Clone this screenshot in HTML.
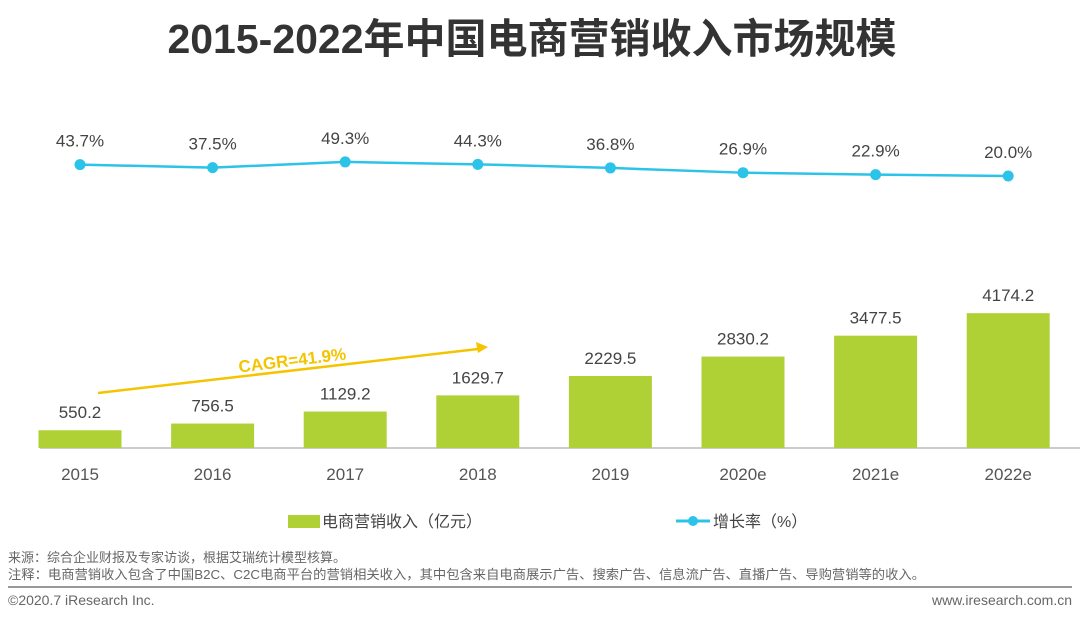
<!DOCTYPE html>
<html><head><meta charset="utf-8"><style>
body{margin:0;width:1080px;height:621px;background:#fff;overflow:hidden;font-family:"Liberation Sans","Noto Sans CJK SC",sans-serif}
svg text{font-family:"Liberation Sans","Noto Sans CJK SC",sans-serif}
</style></head><body>
<svg width="1080" height="621">
<text x="532" y="53" text-anchor="middle" font-size="41" font-weight="bold" fill="#333">2015-2022年中国电商营销收入市场规模</text>
<line x1="40" y1="448" x2="1080" y2="448" stroke="#bbb" stroke-width="1.5"/>
<g id="bars"></g><g id="line"></g>
<line x1="98" y1="393" x2="478" y2="349" stroke="#f5c400" stroke-width="2.5"/>
<polygon points="488,347 476,342 478,353" fill="#f5c400"/>
<text x="293" y="366" text-anchor="middle" font-size="17" font-weight="bold" fill="#f5c400" transform="rotate(-7 293 366)">CAGR=41.9%</text>
<rect x="288" y="515" width="32" height="13" fill="#b0d136"/>
<text x="322" y="527" font-size="16" fill="#444">电商营销收入（亿元）</text>
<line x1="676" y1="521" x2="710" y2="521" stroke="#2cc3e8" stroke-width="3"/>
<circle cx="693" cy="521" r="5" fill="#2cc3e8"/>
<text x="713" y="527" font-size="16" fill="#444">增长率（%）</text>
<text x="8" y="562" font-size="13" fill="#666">来源：综合企业财报及专家访谈，根据艾瑞统计模型核算。</text>
<text x="8" y="579" font-size="13" fill="#666" textLength="917" lengthAdjust="spacingAndGlyphs">注释：电商营销收入包含了中国B2C、C2C电商平台的营销相关收入，其中包含来自电商展示广告、搜索广告、信息流广告、直播广告、导购营销等的收入。</text>
<line x1="8" y1="587" x2="1072" y2="587" stroke="#999" stroke-width="2"/>
<text x="8" y="605" font-size="14" fill="#666">©2020.7 iResearch Inc.</text>
<text x="1072" y="605" font-size="14" fill="#666" text-anchor="end">www.iresearch.com.cn</text>
</svg>
<script>
const categories=["2015","2016","2017","2018","2019","2020e","2021e","2022e"];
const revenue=[550.2,756.5,1129.2,1629.7,2229.5,2830.2,3477.5,4174.2];
const growth=[43.7,37.5,49.3,44.3,36.8,26.9,22.9,20.0];
const NS="http://www.w3.org/2000/svg";
const xc=i=>80+i*132.6;
const yb=v=>448-v*0.0323;
const yl=v=>185.6-v*0.48;
function mk(t,a,p){const e=document.createElementNS(NS,t);for(const k in a)e.setAttribute(k,a[k]);p.appendChild(e);return e;}
const bars=document.getElementById('bars'),line=document.getElementById('line');
categories.forEach((c,i)=>{
 const r=mk('rect',{x:xc(i)-41.5,y:yb(revenue[i]),width:83,height:448-yb(revenue[i]),fill:'#b0d136'},bars);
 
 
 const t=mk('text',{x:xc(i),y:yb(revenue[i])-12,'text-anchor':'middle','font-size':17,fill:'#444'},bars);t.textContent=revenue[i].toFixed(1);
 
 
 const l=mk('text',{x:xc(i),y:480,'text-anchor':'middle','font-size':17,fill:'#555'},bars);l.textContent=c;
 
 
});
const p=mk('polyline',{points:growth.map((g,i)=>xc(i)+','+yl(g)).join(' '),fill:'none',stroke:'#2cc3e8','stroke-width':2.5},line);


growth.forEach((g,i)=>{
 const c=mk('circle',{cx:xc(i),cy:yl(g),r:5.5,fill:'#2cc3e8'},line);
 
 
 const t=mk('text',{x:xc(i),y:yl(g)-18,'text-anchor':'middle','font-size':17,fill:'#444'},line);t.textContent=g.toFixed(1)+'%';
 
 
});
</script>
</body></html>
